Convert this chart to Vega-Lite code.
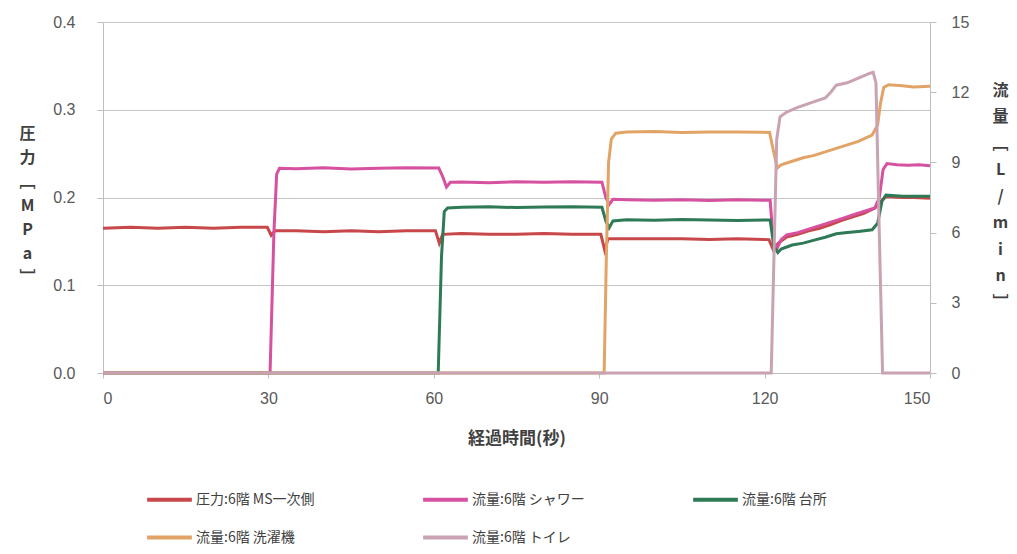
{
  "$schema": "https://vega.github.io/schema/vega-lite/v6.json",
  "autosize": {"type": "none"},
  "width": 827,
  "height": 351,
  "padding": {"left": 103, "top": 22, "right": 87, "bottom": 181},
  "background": "white",
  "config": {
    "view": {"stroke": null},
    "axis": {
      "domainColor": "#bfbfbf",
      "tickColor": "#bfbfbf",
      "gridColor": "#c4c4c4",
      "labelColor": "#595959",
      "labelFont": "Liberation Sans Narrow, Liberation Sans",
      "labelFontSize": 16,
      "titleFont": "Noto Sans CJK JP",
      "titleColor": "#404040"
    },
    "legend": {
      "labelFont": "Noto Sans CJK JP",
      "labelFontSize": 14,
      "labelColor": "#404040"
    }
  },
  "data": {"values": [
    {"s":"圧力:6階 MS一次側","t":0,"v":0.165},{"s":"圧力:6階 MS一次側","t":5,"v":0.166},{"s":"圧力:6階 MS一次側","t":10,"v":0.165},{"s":"圧力:6階 MS一次側","t":15,"v":0.166},{"s":"圧力:6階 MS一次側","t":20,"v":0.165},{"s":"圧力:6階 MS一次側","t":25,"v":0.166},{"s":"圧力:6階 MS一次側","t":29.8,"v":0.166},{"s":"圧力:6階 MS一次側","t":30.5,"v":0.157},{"s":"圧力:6階 MS一次側","t":31.2,"v":0.162},{"s":"圧力:6階 MS一次側","t":35,"v":0.162},{"s":"圧力:6階 MS一次側","t":40,"v":0.161},{"s":"圧力:6階 MS一次側","t":45,"v":0.162},{"s":"圧力:6階 MS一次側","t":50,"v":0.161},{"s":"圧力:6階 MS一次側","t":55,"v":0.162},{"s":"圧力:6階 MS一次側","t":60.3,"v":0.162},{"s":"圧力:6階 MS一次側","t":61,"v":0.148},{"s":"圧力:6階 MS一次側","t":61.6,"v":0.158},{"s":"圧力:6階 MS一次側","t":65,"v":0.159},{"s":"圧力:6階 MS一次側","t":70,"v":0.158},{"s":"圧力:6階 MS一次側","t":75,"v":0.158},{"s":"圧力:6階 MS一次側","t":80,"v":0.159},{"s":"圧力:6階 MS一次側","t":85,"v":0.158},{"s":"圧力:6階 MS一次側","t":90.3,"v":0.158},{"s":"圧力:6階 MS一次側","t":91,"v":0.14},{"s":"圧力:6階 MS一次側","t":91.6,"v":0.153},{"s":"圧力:6階 MS一次側","t":95,"v":0.153},{"s":"圧力:6階 MS一次側","t":100,"v":0.153},{"s":"圧力:6階 MS一次側","t":105,"v":0.153},{"s":"圧力:6階 MS一次側","t":110,"v":0.152},{"s":"圧力:6階 MS一次側","t":115,"v":0.153},{"s":"圧力:6階 MS一次側","t":120.8,"v":0.152},{"s":"圧力:6階 MS一次側","t":121.6,"v":0.14},{"s":"圧力:6階 MS一次側","t":122.5,"v":0.148},{"s":"圧力:6階 MS一次側","t":124,"v":0.155},{"s":"圧力:6階 MS一次側","t":126,"v":0.158},{"s":"圧力:6階 MS一次側","t":128,"v":0.162},{"s":"圧力:6階 MS一次側","t":130,"v":0.165},{"s":"圧力:6階 MS一次側","t":132,"v":0.169},{"s":"圧力:6階 MS一次側","t":134,"v":0.174},{"s":"圧力:6階 MS一次側","t":136,"v":0.178},{"s":"圧力:6階 MS一次側","t":138,"v":0.182},{"s":"圧力:6階 MS一次側","t":140,"v":0.188},{"s":"圧力:6階 MS一次側","t":141,"v":0.195},{"s":"圧力:6階 MS一次側","t":142,"v":0.201},{"s":"圧力:6階 MS一次側","t":145,"v":0.2},{"s":"圧力:6階 MS一次側","t":147,"v":0.2},{"s":"圧力:6階 MS一次側","t":150,"v":0.199},

    {"s":"流量:6階 シャワー","t":0,"v":0},{"s":"流量:6階 シャワー","t":30.3,"v":0},{"s":"流量:6階 シャワー","t":31,"v":6},{"s":"流量:6階 シャワー","t":31.5,"v":8.5},{"s":"流量:6階 シャワー","t":32,"v":8.75},{"s":"流量:6階 シャワー","t":35,"v":8.73},{"s":"流量:6階 シャワー","t":40,"v":8.77},{"s":"流量:6階 シャワー","t":45,"v":8.72},{"s":"流量:6階 シャワー","t":50,"v":8.75},{"s":"流量:6階 シャワー","t":55,"v":8.77},{"s":"流量:6階 シャワー","t":60.9,"v":8.76},{"s":"流量:6階 シャワー","t":61.6,"v":8.4},{"s":"流量:6階 シャワー","t":62.3,"v":7.95},{"s":"流量:6階 シャワー","t":63,"v":8.15},{"s":"流量:6階 シャワー","t":65,"v":8.16},{"s":"流量:6階 シャワー","t":70,"v":8.13},{"s":"流量:6階 シャワー","t":75,"v":8.17},{"s":"流量:6階 シャワー","t":80,"v":8.15},{"s":"流量:6階 シャワー","t":85,"v":8.17},{"s":"流量:6階 シャワー","t":90.5,"v":8.15},{"s":"流量:6階 シャワー","t":91.2,"v":7.5},{"s":"流量:6階 シャワー","t":91.8,"v":7.2},{"s":"流量:6階 シャワー","t":92.5,"v":7.42},{"s":"流量:6階 シャワー","t":95,"v":7.4},{"s":"流量:6階 シャワー","t":100,"v":7.38},{"s":"流量:6階 シャワー","t":105,"v":7.4},{"s":"流量:6階 シャワー","t":110,"v":7.37},{"s":"流量:6階 シャワー","t":115,"v":7.4},{"s":"流量:6階 シャワー","t":121,"v":7.38},{"s":"流量:6階 シャワー","t":121.6,"v":5.6},{"s":"流量:6階 シャワー","t":122.2,"v":5.3},{"s":"流量:6階 シャワー","t":123,"v":5.7},{"s":"流量:6階 シャワー","t":124,"v":5.9},{"s":"流量:6階 シャワー","t":126,"v":6.0},{"s":"流量:6階 シャワー","t":128,"v":6.15},{"s":"流量:6階 シャワー","t":130,"v":6.3},{"s":"流量:6階 シャワー","t":132,"v":6.45},{"s":"流量:6階 シャワー","t":134,"v":6.6},{"s":"流量:6階 シャワー","t":136,"v":6.75},{"s":"流量:6階 シャワー","t":138,"v":6.9},{"s":"流量:6階 シャワー","t":140,"v":7.05},{"s":"流量:6階 シャワー","t":140.8,"v":7.5},{"s":"流量:6階 シャワー","t":141.5,"v":8.7},{"s":"流量:6階 シャワー","t":142.2,"v":8.95},{"s":"流量:6階 シャワー","t":144,"v":8.9},{"s":"流量:6階 シャワー","t":146,"v":8.88},{"s":"流量:6階 シャワー","t":148,"v":8.9},{"s":"流量:6階 シャワー","t":150,"v":8.86},

    {"s":"流量:6階 台所","t":0,"v":0},{"s":"流量:6階 台所","t":60.8,"v":0},{"s":"流量:6階 台所","t":61.4,"v":5},{"s":"流量:6階 台所","t":61.9,"v":6.9},{"s":"流量:6階 台所","t":62.5,"v":7.05},{"s":"流量:6階 台所","t":65,"v":7.08},{"s":"流量:6階 台所","t":70,"v":7.1},{"s":"流量:6階 台所","t":75,"v":7.07},{"s":"流量:6階 台所","t":80,"v":7.09},{"s":"流量:6階 台所","t":85,"v":7.1},{"s":"流量:6階 台所","t":90.5,"v":7.08},{"s":"流量:6階 台所","t":91.2,"v":6.5},{"s":"流量:6階 台所","t":91.8,"v":6.2},{"s":"流量:6階 台所","t":92.5,"v":6.5},{"s":"流量:6階 台所","t":95,"v":6.55},{"s":"流量:6階 台所","t":100,"v":6.53},{"s":"流量:6階 台所","t":105,"v":6.56},{"s":"流量:6階 台所","t":110,"v":6.54},{"s":"流量:6階 台所","t":115,"v":6.52},{"s":"流量:6階 台所","t":121,"v":6.54},{"s":"流量:6階 台所","t":121.7,"v":5.4},{"s":"流量:6階 台所","t":122.4,"v":5.15},{"s":"流量:6階 台所","t":123,"v":5.3},{"s":"流量:6階 台所","t":125,"v":5.47},{"s":"流量:6階 台所","t":127,"v":5.55},{"s":"流量:6階 台所","t":129,"v":5.68},{"s":"流量:6階 台所","t":131,"v":5.8},{"s":"流量:6階 台所","t":133,"v":5.95},{"s":"流量:6階 台所","t":135,"v":6.0},{"s":"流量:6階 台所","t":137,"v":6.05},{"s":"流量:6階 台所","t":139.5,"v":6.12},{"s":"流量:6階 台所","t":140.5,"v":6.4},{"s":"流量:6階 台所","t":141.3,"v":7.35},{"s":"流量:6階 台所","t":142,"v":7.6},{"s":"流量:6階 台所","t":145,"v":7.55},{"s":"流量:6階 台所","t":150,"v":7.55},

    {"s":"流量:6階 洗濯機","t":0,"v":0},{"s":"流量:6階 洗濯機","t":90.9,"v":0},{"s":"流量:6階 洗濯機","t":91.3,"v":5},{"s":"流量:6階 洗濯機","t":91.7,"v":9},{"s":"流量:6階 洗濯機","t":92.2,"v":10},{"s":"流量:6階 洗濯機","t":93,"v":10.25},{"s":"流量:6階 洗濯機","t":95,"v":10.3},{"s":"流量:6階 洗濯機","t":100,"v":10.32},{"s":"流量:6階 洗濯機","t":105,"v":10.28},{"s":"流量:6階 洗濯機","t":110,"v":10.3},{"s":"流量:6階 洗濯機","t":115,"v":10.3},{"s":"流量:6階 洗濯機","t":120.9,"v":10.28},{"s":"流量:6階 洗濯機","t":121.6,"v":9.5},{"s":"流量:6階 洗濯機","t":122.3,"v":8.76},{"s":"流量:6階 洗濯機","t":123,"v":8.9},{"s":"流量:6階 洗濯機","t":125,"v":9.05},{"s":"流量:6階 洗濯機","t":127,"v":9.2},{"s":"流量:6階 洗濯機","t":129,"v":9.3},{"s":"流量:6階 洗濯機","t":131,"v":9.45},{"s":"流量:6階 洗濯機","t":133,"v":9.6},{"s":"流量:6階 洗濯機","t":135,"v":9.75},{"s":"流量:6階 洗濯機","t":137,"v":9.9},{"s":"流量:6階 洗濯機","t":139.5,"v":10.17},{"s":"流量:6階 洗濯機","t":140.5,"v":10.6},{"s":"流量:6階 洗濯機","t":141,"v":11.5},{"s":"流量:6階 洗濯機","t":141.6,"v":12.2},{"s":"流量:6階 洗濯機","t":142.5,"v":12.32},{"s":"流量:6階 洗濯機","t":145,"v":12.28},{"s":"流量:6階 洗濯機","t":147,"v":12.22},{"s":"流量:6階 洗濯機","t":150,"v":12.25},

    {"s":"流量:6階 トイレ","t":0,"v":0},{"s":"流量:6階 トイレ","t":121.2,"v":0},{"s":"流量:6階 トイレ","t":121.7,"v":5},{"s":"流量:6階 トイレ","t":122.2,"v":10},{"s":"流量:6階 トイレ","t":122.8,"v":10.95},{"s":"流量:6階 トイレ","t":124,"v":11.15},{"s":"流量:6階 トイレ","t":126,"v":11.35},{"s":"流量:6階 トイレ","t":129,"v":11.6},{"s":"流量:6階 トイレ","t":131,"v":11.75},{"s":"流量:6階 トイレ","t":132,"v":12.0},{"s":"流量:6階 トイレ","t":133,"v":12.3},{"s":"流量:6階 トイレ","t":135,"v":12.4},{"s":"流量:6階 トイレ","t":137,"v":12.6},{"s":"流量:6階 トイレ","t":139,"v":12.8},{"s":"流量:6階 トイレ","t":139.7,"v":12.85},{"s":"流量:6階 トイレ","t":140.2,"v":12.4},{"s":"流量:6階 トイレ","t":140.8,"v":6},{"s":"流量:6階 トイレ","t":141.4,"v":0},{"s":"流量:6階 トイレ","t":150,"v":0}
  ]},
  "encoding": {
    "x": {
      "field": "t", "type": "quantitative",
      "scale": {"domain": [0, 150], "nice": false},
      "axis": {
        "values": [0, 30, 60, 90, 120, 150],
        "title": "経過時間(秒)",
        "titleFontSize": 17,
        "titleFontWeight": "bold",
        "titlePadding": 24,
        "labelPadding": 12,
        "tickSize": 5,
        "grid": false
      }
    },
    "color": {
      "field": "s", "type": "nominal",
      "scale": {
        "domain": ["圧力:6階 MS一次側", "流量:6階 シャワー", "流量:6階 台所", "流量:6階 洗濯機", "流量:6階 トイレ"],
        "range": ["#c8474a", "#d6519f", "#2e7a56", "#e2a466", "#c9a2b3"]
      },
      "legend": {
        "title": null,
        "orient": "none",
        "direction": "horizontal",
        "legendX": 42,
        "legendY": 453,
        "columns": 3,
        "columnPadding": 100,
        "rowPadding": 5,
        "symbolType": "stroke",
        "symbolStrokeWidth": 4,
        "symbolSize": 2000,
        "labelOffset": 2
      }
    }
  },
  "layer": [
    {
      "transform": [{"filter": "datum.s == '圧力:6階 MS一次側'"}],
      "mark": {"type": "line", "strokeWidth": 3, "interpolate": "linear"},
      "encoding": {
        "y": {
          "field": "v", "type": "quantitative",
          "scale": {"domain": [0, 0.4], "nice": false},
          "axis": {
            "orient": "left",
            "values": [0, 0.1, 0.2, 0.3, 0.4],
            "format": ".1f",
            "grid": true,
            "tickSize": 6,
            "labelPadding": 22,
            "title": ["圧", "力", "﹇", "M", "P", "a", "﹈"],
            "titleAngle": 0,
            "titleX": -76,
            "titleY": 111,
            "titleAlign": "center",
            "titleBaseline": "middle",
            "titleLineHeight": 24,
            "titleFontSize": 16,
            "titleFontWeight": "bold"
          }
        }
      }
    },
    {
      "transform": [{"filter": "datum.s != '圧力:6階 MS一次側'"}],
      "mark": {"type": "line", "strokeWidth": 3, "interpolate": "linear"},
      "encoding": {
        "y": {
          "field": "v", "type": "quantitative",
          "scale": {"domain": [0, 15], "nice": false},
          "axis": {
            "orient": "right",
            "values": [0, 3, 6, 9, 12, 15],
            "grid": false,
            "tickSize": 6,
            "labelPadding": 15,
            "title": ["流", "量", "﹇", "L", "/", "m", "i", "n", "﹈"],
            "titleAngle": 0,
            "titleX": 70,
            "titleY": 68,
            "titleAlign": "center",
            "titleBaseline": "middle",
            "titleLineHeight": 26.5,
            "titleFontSize": 16,
            "titleFontWeight": "bold"
          }
        }
      }
    }
  ],
  "resolve": {"scale": {"y": "independent"}}
}
